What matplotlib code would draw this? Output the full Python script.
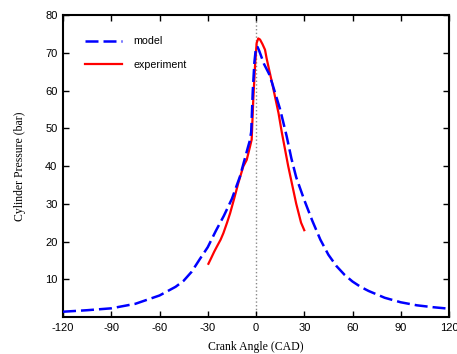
import matplotlib
matplotlib.use("Agg")
import matplotlib.pyplot as plt

plt.rcParams["axes.unicode_minus"] = False

# Model (blue dashed)
model_cad = [-120, -105, -90, -75, -60, -50, -45, -40, -35, -30, -25, -20, -15, -10,
             -5, -4, -3, -2, -1, 0, 1, 2, 5, 8, 10, 15, 19, 22, 25, 30, 35, 40, 45,
             50, 55, 60, 65, 70, 80, 90, 100, 110, 120]
model_p = [1.4, 1.8, 2.3, 3.5, 5.7, 8.0, 9.6, 12.0, 15.3, 18.5, 22.8, 26.8, 31.3, 37.2,
           45.0, 46.5, 49.0, 60.0, 67.5, 71.5, 71.5, 70.5, 67.0, 64.5, 62.0, 55.0, 48.0,
           42.0, 37.0, 31.0, 25.5, 20.5, 16.5, 13.5, 11.2, 9.4, 8.0, 6.9, 5.1, 3.9,
           3.1, 2.6, 2.2]

# Experiment (red solid)
exp_cad = [-29.6, -28, -26, -24.4, -22, -20.3, -18, -16.1, -13.5, -11, -7.9, -5.8,
           -3.7, -2.7, -1.7, -0.6, 0.4, 1.4, 2.5, 4.0, 5.6, 6.6, 8, 10, 12, 14,
           16, 18, 20, 22, 25, 28, 30]
exp_p = [14.1, 15.5, 17.3, 18.6, 20.5, 22.2, 25.0, 27.5, 31.5, 35.5, 39.9, 41.6,
         45.2, 47.0, 57.6, 66.6, 72.6, 73.8, 73.5, 72.3, 70.8, 68.5, 65.8, 62.0, 58.0,
         54.0, 49.0, 44.5, 40.0, 36.0, 30.0, 25.0, 23.0]

xticks = [-120, -90, -60, -30, 0, 30, 60, 90, 120]
yticks = [10, 20, 30, 40, 50, 60, 70, 80]

fig = plt.figure(figsize=(4.57, 3.54), dpi=100)
ax = fig.add_axes([0.1379, 0.1045, 0.8446, 0.8531])

ax.axvline(0, color="#888888", linestyle=":", linewidth=1.0, zorder=1)
ax.plot(model_cad, model_p, color="#0000ff", linestyle=(0, (5.2, 2.0)), linewidth=1.8,
        label="model", zorder=3)
ax.plot(exp_cad, exp_p, color="#ff0000", linestyle="-", linewidth=1.6,
        label="experiment", zorder=2)

ax.set_xlim(-120, 120)
ax.set_ylim(0, 80)
ax.set_xticks(xticks)
ax.set_yticks(yticks)
ax.tick_params(direction="in", top=True, right=True, length=4, width=1,
               labelsize=8, pad=4)
for lab in ax.get_xticklabels() + ax.get_yticklabels():
    lab.set_family("Liberation Sans")
for s in ax.spines.values():
    s.set_linewidth(1.5)

ax.set_xlabel("Crank Angle (CAD)", family="Liberation Serif", fontsize=8.5, labelpad=6)
ax.set_ylabel("Cylinder Pressure (bar)", family="Liberation Serif", fontsize=8.5, labelpad=14)

leg = ax.legend(loc="upper left", frameon=False, prop={"family": "Liberation Sans", "size": 7.7},
                handlelength=3.5, handletextpad=1.05, labelspacing=1.25,
                borderpad=0, borderaxespad=0, bbox_to_anchor=(0.057, 0.929))

fig.savefig("out.png", dpi=100)
